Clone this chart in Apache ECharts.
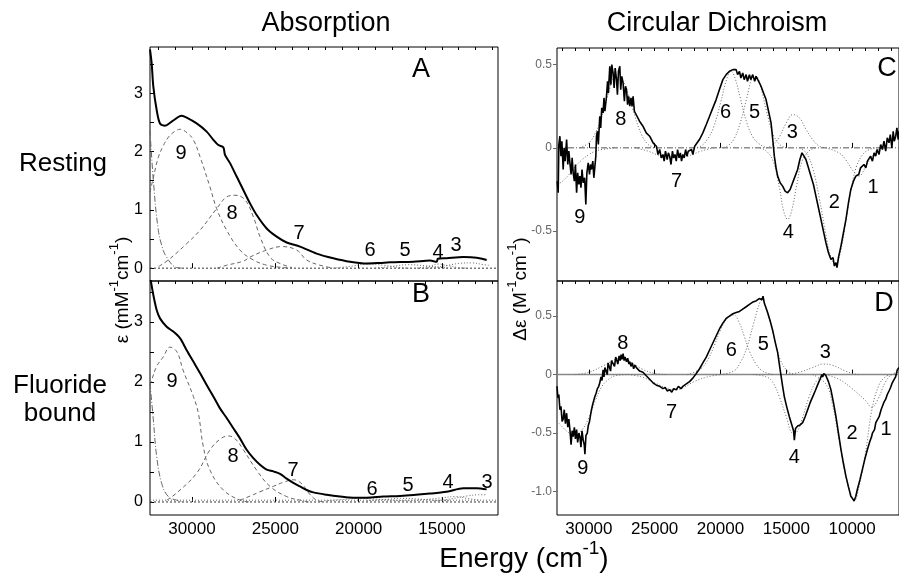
<!DOCTYPE html>
<html>
<head>
<meta charset="utf-8">
<script src="https://cdn.jsdelivr.net/npm/echarts@6/dist/echarts.min.js"></script>
<style>
  html, body { margin: 0; padding: 0; background: #fff; }
  #chart { width: 899px; height: 573px; }
</style>
</head>
<body>
<div id="chart"></div>
<script>
// ---- Absorption, resting (panel A) ----
const absRestMain = [[32520,3.75],[32420,3.51],[32320,3.11],[32120,2.71],[31920,2.48],[31620,2.44],[31220,2.51],[30620,2.61],[30320,2.58],[29720,2.48],[29120,2.34],[28720,2.2],[28420,2.11],[28120,2.07],[28020,1.94],[27720,1.8],[27320,1.57],[26920,1.34],[26520,1.11],[26120,0.91],[25520,0.68],[24920,0.54],[24320,0.44],[23520,0.37],[22520,0.25],[21520,0.17],[20520,0.11],[19520,0.08],[18720,0.09],[18120,0.1],[16720,0.11],[15720,0.13],[15320,0.11],[15250,0.16],[14720,0.17],[13720,0.19],[12920,0.18],[12320,0.14]];
const absRestUV = [[32520,2.37],[32320,1.51],[32020,0.65],[31720,0.3],[31520,0.19],[31200,0.06],[30920,0.01],[30500,0]];
const absRestBand9 = [[32520,1.3],[32320,1.55],[32020,1.9],[31720,2.1],[31400,2.25],[31000,2.35],[30700,2.38],[30300,2.32],[29920,2.2],[29520,1.91],[28920,1.39],[28520,1.02],[27920,0.65],[27120,0.31],[26320,0.14],[25500,0.05],[24500,0.01],[24000,0]];
const absRestBand8 = [[32000,0.03],[31420,0.14],[30320,0.42],[29520,0.65],[28520,1.02],[27920,1.22],[27420,1.25],[26820,1.17],[26320,0.88],[25920,0.54],[25320,0.19],[24720,0.08],[24000,0.01]];
const absRestBand7 = [[28500,0],[27920,0.05],[26920,0.12],[26520,0.19],[25520,0.31],[24620,0.37],[23720,0.31],[23120,0.14],[22320,0.05],[21500,0]];
const absRestBand6 = [[21500,0],[20500,0.03],[19500,0.07],[18500,0.05],[17500,0.01],[17000,0]];
const absRestBand5 = [[19000,0],[18000,0.03],[17000,0.06],[16000,0.04],[15000,0.01],[14500,0]];
const absRestBand4 = [[16500,0],[15800,0.03],[15200,0.07],[14600,0.04],[14000,0.01],[13500,0]];
const absRestBand3 = [[16000,0],[15000,0.03],[14000,0.08],[13200,0.09],[12500,0.06],[12200,0.05]];
const absRestLabels = [['9',30660,1.97],['8',27600,0.94],['7',23580,0.6],['6',19320,0.31],['5',17220,0.31],['4',15240,0.27],['3',14160,0.39]];

// ---- Absorption, fluoride bound (panel B) ----
const absFluMain = [[32520,3.75],[32480,3.7],[32320,3.45],[32120,3.2],[31920,3.06],[31520,2.92],[31120,2.84],[30720,2.73],[30320,2.53],[29920,2.34],[29520,2.15],[29120,1.95],[28720,1.76],[28320,1.56],[27920,1.4],[27520,1.23],[27120,1.06],[26720,0.87],[26320,0.73],[25920,0.62],[25520,0.54],[25120,0.51],[24720,0.47],[24320,0.39],[23920,0.32],[23520,0.26],[23120,0.2],[22720,0.16],[21920,0.12],[21120,0.09],[20320,0.07],[19520,0.07],[18520,0.09],[17520,0.1],[15720,0.14],[14720,0.17],[13720,0.23],[12920,0.23],[12320,0.21]];
const absFluUV = [[32520,1.98],[32320,1.37],[32120,0.76],[31820,0.31],[31420,0.09],[30920,0.03],[30500,0]];
const absFluBand9 = [[32520,1.95],[32420,2.03],[32120,2.26],[31720,2.42],[31320,2.58],[30900,2.5],[30540,2.2],[29920,1.76],[29620,1.48],[29320,0.92],[28920,0.53],[28120,0.2],[27120,0.03],[26500,0]];
const absFluBand8 = [[31520,0.03],[30920,0.15],[29720,0.48],[28920,0.87],[28300,1.05],[27820,1.1],[27400,1.05],[26920,0.87],[26120,0.53],[25320,0.26],[24320,0.09],[23520,0.03],[23000,0]];
const absFluBand7 = [[27120,0.03],[26500,0.1],[25920,0.17],[25120,0.26],[24500,0.33],[23920,0.37],[23400,0.3],[23000,0.15],[22520,0.03],[22000,0]];
const absFluBand6 = [[22000,0.02],[21000,0.04],[20000,0.06],[19000,0.05],[18000,0.03],[17000,0.02]];
const absFluBand5 = [[19500,0.02],[18500,0.04],[17500,0.06],[16500,0.05],[15500,0.03],[14500,0.02]];
const absFluBand4 = [[17000,0.02],[16000,0.04],[15000,0.07],[14200,0.09],[13500,0.06],[12800,0.03]];
const absFluBand3 = [[15500,0.02],[14500,0.05],[13500,0.1],[12800,0.12],[12300,0.12]];
const absFluLabels = [['9',31200,2.0],['8',27540,0.75],['7',23940,0.53],['6',19200,0.2],['5',17040,0.27],['4',14640,0.33],['3',12300,0.33]];

// ---- CD, resting (panel C) ----
const cdRestMain = [[32400,-0.2],[32330,-0.27],[32280,0.02],[32200,0.07],[32120,-0.05],[32050,0.04],[31950,-0.13],[31880,0.0],[31800,-0.08],[31690,0.05],[31600,-0.1],[31520,-0.02],[31440,-0.09],[31350,-0.16],[31270,-0.06],[31190,-0.15],[31100,-0.2],[31020,-0.1],[30930,-0.27],[30850,-0.15],[30760,-0.22],[30680,-0.17],[30600,-0.24],[30520,-0.13],[30430,-0.21],[30320,-0.18],[30230,-0.34],[30150,-0.15],[30050,-0.09],[29950,-0.16],[29880,-0.1],[29800,-0.13],[29700,-0.08],[29620,-0.18],[29550,-0.17],[29470,-0.05],[29420,0.07],[29350,0.1],[29280,0.02],[29170,0.19],[29100,0.12],[29020,0.24],[28920,0.21],[28850,0.3],[28780,0.22],[28660,0.31],[28580,0.4],[28520,0.33],[28410,0.49],[28330,0.38],[28260,0.5],[28160,0.45],[28080,0.36],[28000,0.48],[27900,0.41],[27830,0.32],[27750,0.46],[27650,0.49],[27580,0.35],[27500,0.43],[27400,0.39],[27300,0.28],[27220,0.37],[27140,0.35],[27060,0.26],[26980,0.31],[26890,0.25],[26800,0.3],[26720,0.25],[26640,0.31],[26540,0.22],[26390,0.21],[26150,0.16],[25890,0.13],[25640,0.09],[25380,0.07],[25120,0.03],[24870,0.01],[24750,-0.04],[24620,-0.01],[24500,-0.06],[24370,-0.04],[24280,-0.08],[24180,-0.02],[24050,-0.07],[23960,-0.03],[23860,-0.05],[23760,-0.1],[23650,-0.02],[23560,-0.06],[23460,-0.04],[23360,-0.08],[23260,-0.01],[23150,-0.06],[23050,-0.03],[22960,-0.08],[22860,-0.04],[22760,-0.06],[22650,-0.01],[22550,-0.05],[22450,-0.02],[22350,-0.03],[22200,-0.01],[22100,-0.04],[21960,0.01],[21840,0.01],[21600,0.05],[21340,0.09],[21080,0.14],[20830,0.19],[20580,0.24],[20330,0.29],[20080,0.35],[19820,0.41],[19570,0.44],[19320,0.46],[19060,0.47],[18810,0.47],[18700,0.44],[18560,0.46],[18450,0.42],[18310,0.45],[18200,0.41],[18050,0.44],[17950,0.4],[17800,0.44],[17700,0.41],[17550,0.44],[17400,0.4],[17300,0.43],[17100,0.4],[16920,0.37],[16730,0.33],[16540,0.29],[16350,0.22],[16160,0.15],[16030,0.05],[15910,-0.05],[15780,-0.12],[15660,-0.17],[15470,-0.21],[15280,-0.23],[15090,-0.26],[14900,-0.27],[14800,-0.28],[14710,-0.25],[14520,-0.21],[14330,-0.17],[14140,-0.13],[13970,-0.07],[13810,-0.03],[13660,-0.05],[13510,-0.07],[13320,-0.12],[13130,-0.17],[12940,-0.22],[12750,-0.29],[12560,-0.36],[12370,-0.43],[12180,-0.5],[11990,-0.57],[11800,-0.63],[11610,-0.67],[11450,-0.66],[11350,-0.71],[11230,-0.69],[11150,-0.72],[11040,-0.66],[10850,-0.59],[10660,-0.51],[10470,-0.43],[10280,-0.33],[10100,-0.25],[9900,-0.2],[9720,-0.17],[9500,-0.16],[9360,-0.12],[9220,-0.13],[9100,-0.1],[8960,-0.12],[8840,-0.08],[8710,-0.09],[8600,-0.05],[8460,-0.08],[8330,-0.03],[8210,-0.05],[8100,-0.01],[7960,-0.04],[7830,0.02],[7700,-0.01],[7580,0.04],[7450,-0.02],[7330,0.06],[7200,0.03],[7100,0.08],[6980,0.0],[6880,0.1],[6800,0.04],[6690,0.07],[6600,0.12],[6500,0.05],[6440,0.1]];
const cdRestBand9 = [[32400,-0.22],[32000,-0.2],[31500,-0.16],[31000,-0.11],[30500,-0.07],[30000,-0.04],[29500,-0.02],[29000,-0.01],[28000,0]];
const cdRestBand8 = [[30700,0],[30000,0.03],[29500,0.09],[29000,0.19],[28500,0.33],[28000,0.42],[27500,0.41],[27000,0.32],[26500,0.19],[26000,0.08],[25500,0.02],[25000,0]];
const cdRestBand7 = [[26500,0],[25500,-0.02],[24500,-0.05],[23500,-0.06],[22500,-0.05],[21500,-0.02],[20500,0]];
const cdRestBand6 = [[22000,0],[21500,0.01],[21000,0.05],[20500,0.13],[20000,0.27],[19500,0.42],[19200,0.46],[18900,0.42],[18500,0.3],[18000,0.15],[17500,0.06],[17000,0.02],[16500,0]];
const cdRestBand5 = [[20000,0],[19500,0.01],[19000,0.05],[18500,0.15],[18000,0.3],[17600,0.42],[17300,0.43],[17000,0.38],[16500,0.22],[16000,0.08],[15500,0.02],[15000,0]];
const cdRestBand4 = [[17000,0],[16500,-0.02],[16000,-0.08],[15500,-0.25],[15200,-0.38],[14900,-0.43],[14600,-0.38],[14200,-0.22],[13800,-0.08],[13300,-0.02],[12800,0]];
const cdRestBand3 = [[16500,0],[16000,0.02],[15500,0.07],[15000,0.15],[14500,0.2],[14000,0.18],[13500,0.11],[13000,0.05],[12500,0.01],[12000,0]];
const cdRestBand2 = [[14000,0],[13500,-0.03],[13000,-0.12],[12500,-0.3],[12000,-0.52],[11600,-0.66],[11250,-0.7],[10900,-0.63],[10500,-0.45],[10100,-0.26],[9700,-0.12],[9200,-0.04],[8700,-0.01],[8200,0]];
const cdRestBand1 = [[12000,0],[11000,-0.03],[10500,-0.07],[10000,-0.13],[9500,-0.17],[9000,-0.12],[8500,-0.05],[8000,-0.01],[7500,0]];
const cdRestLabels = [['9',30680,-0.42],['8',27580,0.17],['7',23340,-0.2],['6',19620,0.21],['5',17420,0.21],['3',14540,0.09],['4',14840,-0.51],['2',11360,-0.33],['1',8410,-0.24]];

// ---- CD, fluoride bound (panel D) ----
const cdFluMain = [[32420,-0.1],[32350,-0.2],[32280,-0.17],[32200,-0.3],[32120,-0.27],[32030,-0.4],[31950,-0.38],[31870,-0.3],[31780,-0.42],[31690,-0.33],[31600,-0.45],[31520,-0.38],[31440,-0.47],[31350,-0.6],[31270,-0.48],[31190,-0.53],[31100,-0.45],[31020,-0.55],[30930,-0.47],[30850,-0.58],[30760,-0.5],[30680,-0.53],[30600,-0.62],[30520,-0.48],[30430,-0.56],[30350,-0.6],[30300,-0.68],[30220,-0.52],[30120,-0.5],[30050,-0.44],[29950,-0.4],[29880,-0.35],[29800,-0.3],[29700,-0.25],[29620,-0.24],[29550,-0.19],[29450,-0.16],[29350,-0.12],[29250,-0.1],[29170,-0.07],[29080,-0.02],[29000,-0.05],[28920,0.04],[28850,-0.02],[28780,0.06],[28660,0.07],[28600,0.0],[28540,0.1],[28410,0.1],[28350,0.03],[28280,0.12],[28150,0.12],[28050,0.07],[27960,0.15],[27900,0.13],[27800,0.09],[27700,0.16],[27620,0.12],[27550,0.17],[27480,0.13],[27400,0.18],[27320,0.12],[27250,0.15],[27140,0.11],[27050,0.14],[26960,0.09],[26890,0.11],[26800,0.07],[26700,0.1],[26600,0.05],[26500,0.08],[26390,0.06],[26250,0.05],[26140,0.03],[25890,0.02],[25640,-0.01],[25380,-0.04],[25130,-0.07],[24870,-0.09],[24620,-0.1],[24370,-0.12],[24200,-0.11],[24050,-0.14],[23860,-0.13],[23700,-0.15],[23560,-0.12],[23360,-0.13],[23200,-0.1],[23000,-0.12],[22860,-0.1],[22600,-0.08],[22350,-0.06],[22100,-0.03],[21840,0.01],[21590,0.05],[21340,0.1],[21080,0.15],[20830,0.21],[20580,0.27],[20330,0.33],[20080,0.39],[19820,0.44],[19570,0.48],[19320,0.5],[19060,0.52],[18810,0.53],[18560,0.54],[18310,0.56],[18200,0.55],[18050,0.58],[17900,0.57],[17800,0.6],[17650,0.59],[17550,0.62],[17400,0.61],[17300,0.63],[17150,0.62],[17050,0.65],[16920,0.66],[16850,0.64],[16770,0.67],[16670,0.61],[16540,0.57],[16420,0.53],[16230,0.46],[16040,0.38],[15850,0.28],[15660,0.19],[15530,0.09],[15400,-0.01],[15280,-0.1],[15150,-0.19],[14960,-0.28],[14770,-0.36],[14580,-0.43],[14450,-0.48],[14390,-0.56],[14300,-0.46],[14140,-0.44],[13950,-0.43],[13760,-0.41],[13570,-0.36],[13380,-0.3],[13190,-0.24],[13000,-0.19],[12810,-0.14],[12630,-0.09],[12440,-0.04],[12300,0.0],[12250,-0.02],[12150,0.01],[11990,-0.01],[11800,-0.06],[11610,-0.13],[11420,-0.24],[11230,-0.36],[11040,-0.5],[10850,-0.64],[10660,-0.76],[10470,-0.87],[10280,-0.96],[10100,-1.04],[9970,-1.06],[9850,-1.08],[9720,-1.04],[9600,-0.98],[9410,-0.9],[9220,-0.81],[9030,-0.72],[8840,-0.64],[8650,-0.57],[8520,-0.53],[8460,-0.5],[8300,-0.47],[8200,-0.41],[7950,-0.36],[7800,-0.3],[7700,-0.31],[7600,-0.24],[7450,-0.21],[7330,-0.17],[7200,-0.14],[7080,-0.11],[6950,-0.07],[6850,-0.05],[6700,-0.02],[6570,0.04],[6440,0.06]];
const cdFluBand9 = [[32400,-0.4],[31500,-0.5],[31000,-0.52],[30500,-0.47],[30000,-0.37],[29500,-0.22],[29000,-0.1],[28500,-0.04],[28000,-0.01],[27000,0]];
const cdFluBand8 = [[31000,0],[30000,0.02],[29000,0.07],[28000,0.13],[27500,0.14],[27000,0.12],[26000,0.05],[25000,0.01],[24000,0]];
const cdFluBand7 = [[27000,0],[26000,-0.02],[25000,-0.07],[24000,-0.12],[23500,-0.13],[23000,-0.12],[22000,-0.06],[21000,-0.02],[20000,0]];
const cdFluBand6 = [[22500,0],[21500,0.05],[21000,0.12],[20500,0.24],[20000,0.38],[19500,0.48],[19000,0.51],[18600,0.45],[18200,0.33],[17800,0.2],[17300,0.09],[16800,0.03],[16000,0]];
const cdFluBand5 = [[20000,0],[19000,0.03],[18500,0.1],[18000,0.23],[17500,0.43],[17000,0.62],[16800,0.64],[16500,0.55],[16000,0.35],[15500,0.14],[15000,0.04],[14500,0]];
const cdFluBand4 = [[17500,0],[16500,-0.02],[16000,-0.07],[15500,-0.2],[15000,-0.36],[14500,-0.5],[14200,-0.49],[13800,-0.38],[13300,-0.2],[12800,-0.07],[12300,-0.02],[11800,0]];
const cdFluBand3 = [[15000,0],[14000,0.02],[13000,0.06],[12200,0.09],[11500,0.08],[10500,0.03],[10000,0.01],[9500,0]];
const cdFluBand2 = [[13000,0],[12000,-0.08],[11500,-0.25],[11000,-0.55],[10500,-0.86],[10000,-1.05],[9800,-1.07],[9500,-0.97],[9000,-0.68],[8500,-0.3],[8000,-0.1],[7500,-0.02],[7000,0]];
const cdFluBand1 = [[12000,0],[11000,-0.04],[10000,-0.12],[9000,-0.22],[8500,-0.28],[8000,-0.2],[7500,-0.07],[7000,0],[6440,0.02]];
const cdFluLabels = [['8',27420,0.27],['9',30450,-0.8],['7',23710,-0.32],['6',19170,0.21],['5',16740,0.26],['3',12040,0.19],['4',14390,-0.71],['2',10000,-0.5],['1',7420,-0.47]];

// tick positions
const energyMajorLeft = [30000, 25000, 20000, 15000];
const energyMajorRight = [30000, 25000, 20000, 15000, 10000];
const epsTicks = [0, 1, 2, 3];
const cdTicksC = [0.5, 0, -0.5];
const cdTicksD = [0.5, 0, -0.5, -1.0];

const FONT = '"Liberation Sans", Arial, sans-serif';
const minorTicks = [];
for (let v = 7000; v <= 32000; v += 1000) minorTicks.push(v);
const halfTicks = [0, 0.5, 1, 1.5, 2, 2.5, 3, 3.5];

// grids: A, B, C, D
const grids = [
  { left: 150, top: 47, width: 348, height: 234 },
  { left: 150, top: 281, width: 348, height: 234 },
  { left: 557, top: 48, width: 343, height: 233 },
  { left: 557, top: 281, width: 343, height: 234 }
].map(g => Object.assign(g, { show: true, borderColor: '#000', borderWidth: 1, backgroundColor: 'transparent' }));

const xRange = [
  { min: 11640, max: 32520 }, { min: 11640, max: 32520 },
  { min: 6440, max: 32420 }, { min: 6440, max: 32420 }
];
const yRange = [
  { min: -0.22, max: 3.79 }, { min: -0.217, max: 3.683 },
  { min: -0.8, max: 0.6 }, { min: -1.2, max: 0.8 }
];

const xAxes = [];
// major ticks + labels
for (let g = 0; g < 4; g++) {
  const major = g < 2 ? energyMajorLeft : energyMajorRight;
  xAxes.push({
    gridIndex: g, type: 'value', inverse: true, min: xRange[g].min, max: xRange[g].max,
    axisLine: { show: false }, splitLine: { show: false },
    axisTick: { show: true, inside: true, length: 5, customValues: major, lineStyle: { color: '#000' } },
    axisLabel: { show: g === 1 || g === 3, customValues: major, fontSize: 17, color: '#000', margin: 6, fontFamily: FONT,
      formatter: v => String(v) }
  });
}
// minor ticks
for (let g = 0; g < 4; g++) {
  xAxes.push({
    gridIndex: g, type: 'value', inverse: true, min: xRange[g].min, max: xRange[g].max,
    axisLine: { show: false }, splitLine: { show: false },
    axisTick: { show: true, inside: true, length: 3, customValues: minorTicks.filter(v => v > xRange[g].min && v < xRange[g].max), lineStyle: { color: '#000' } },
    axisLabel: { show: false }
  });
}

const yAxes = [];
for (let g = 0; g < 4; g++) {
  const left = g < 2;
  const labels = left ? epsTicks : (g === 2 ? cdTicksC : cdTicksD);
  yAxes.push({
    gridIndex: g, type: 'value', min: yRange[g].min, max: yRange[g].max,
    axisLine: { show: false }, splitLine: { show: false },
    axisTick: { show: true, inside: left, length: 4, customValues: left ? halfTicks : labels, lineStyle: { color: left ? '#000' : '#666' } },
    axisLabel: {
      customValues: labels, fontSize: left ? 16 : 12, color: left ? '#000' : '#666', margin: left ? 7 : 5, fontFamily: FONT,
      formatter: v => (left || v === 0) ? String(v) : v.toFixed(1)
    }
  });
}

function curve(data, g, width, type, color, smooth) {
  return {
    type: 'line', xAxisIndex: g, yAxisIndex: g, data: data, showSymbol: false, symbol: 'none',
    smooth: smooth || false, silent: true, animation: false,
    lineStyle: { width: width, type: type, color: color }
  };
}
function numbers(list, g) {
  return {
    type: 'scatter', xAxisIndex: g, yAxisIndex: g, symbolSize: 0, silent: true, animation: false, z: 10,
    itemStyle: { color: '#000', opacity: 1 },
    data: list.map(([t, x, y]) => ({ name: t, value: [x, y] })),
    label: { show: true, position: 'inside', formatter: '{b}', fontSize: 20, color: '#000', opacity: 1, fontFamily: FONT }
  };
}

const DASH = [4, 3], DOT = [1, 2], DASHDOT = [6, 2, 1, 2];
const GREY = '#666';
const series = [];

// panel A
series.push(curve([[32520, 0], [11640, 0]], 0, 1, [2, 2], '#333'));
series.push(curve(absRestUV, 0, 1, DASHDOT, GREY, 0.4));
[absRestBand9, absRestBand8, absRestBand7].forEach(d => series.push(curve(d, 0, 1, DASH, GREY, 0.4)));
[absRestBand6, absRestBand5, absRestBand4, absRestBand3].forEach(d => series.push(curve(d, 0, 1, DOT, GREY, 0.4)));
series.push(curve(absRestMain, 0, 2, 'solid', '#000', 0.3));
series.push(numbers(absRestLabels, 0));

// panel B
series.push(curve([[32520, 0], [11640, 0]], 1, 1, [2, 2], '#333'));
series.push(curve([[32520, 0.03], [11640, 0.03]], 1, 1, DOT, GREY));
series.push(curve(absFluUV, 1, 1, DASHDOT, GREY, 0.4));
[absFluBand9, absFluBand8, absFluBand7].forEach(d => series.push(curve(d, 1, 1, DASH, GREY, 0.4)));
[absFluBand6, absFluBand5, absFluBand4, absFluBand3].forEach(d => series.push(curve(d, 1, 1, DOT, GREY, 0.4)));
series.push(curve(absFluMain, 1, 2, 'solid', '#000', 0.3));
series.push(numbers(absFluLabels, 1));

// panel C
series.push(curve([[32420, 0], [6440, 0]], 2, 1, DASHDOT, '#555'));
[cdRestBand9, cdRestBand8, cdRestBand7, cdRestBand6, cdRestBand5, cdRestBand4, cdRestBand3, cdRestBand2, cdRestBand1]
  .forEach(d => series.push(curve(d, 2, 1, DOT, GREY, 0.4)));
series.push(curve(cdRestMain, 2, 1.6, 'solid', '#000'));
series.push(numbers(cdRestLabels, 2));

// panel D
series.push(curve([[32420, 0], [6440, 0]], 3, 1.5, 'solid', '#888'));
[cdFluBand9, cdFluBand8, cdFluBand7, cdFluBand6, cdFluBand5, cdFluBand4, cdFluBand3, cdFluBand2, cdFluBand1]
  .forEach(d => series.push(curve(d, 3, 1, DOT, GREY, 0.4)));
series.push(curve(cdFluMain, 3, 1.6, 'solid', '#000'));
series.push(numbers(cdFluLabels, 3));

function txt(text, x, y, size, extra) {
  return Object.assign({
    type: 'text', x: x, y: y, silent: true,
    style: { text: text, fontSize: size, fontFamily: FONT, fill: '#000', align: 'center', verticalAlign: 'middle' }
  }, extra || {});
}
function supText(parts, x, y, size, supSize, rotation) {
  const rich = {
    n: { fontSize: size, fontFamily: FONT, lineHeight: size + 6, verticalAlign: 'bottom', fill: '#000' },
    s: { fontSize: supSize, fontFamily: FONT, lineHeight: size + 6, verticalAlign: 'top', fill: '#000' }
  };
  return {
    type: 'text', x: x, y: y, rotation: rotation || 0, silent: true,
    style: { text: parts, rich: rich, align: 'center', verticalAlign: 'middle', fill: '#000' }
  };
}

const graphics = [
  txt('Absorption', 326, 24, 27),
  txt('Circular Dichroism', 717, 24, 27),
  txt('Resting', 63, 164, 26),
  txt('Fluoride', 60, 386, 26),
  txt('bound', 60, 414, 26),
  txt('A', 421, 70, 27),
  txt('B', 421, 295, 27),
  txt('C', 887, 69, 27),
  txt('D', 884, 304, 27),
  supText('{n|ε (mM}{s|-1}{n|cm}{s|-1}{n|)}', 120, 290, 19, 13, Math.PI / 2),
  supText('{n|Δε (M}{s|-1}{n|cm}{s|-1}{n|)}', 518, 289, 19, 13, Math.PI / 2),
  supText('{n|Energy (cm}{s|-1}{n|)}', 524, 556, 28, 19, 0)
];

const chart = echarts.init(document.getElementById('chart'), null, { renderer: 'canvas' });
chart.setOption({
  animation: false,
  backgroundColor: '#fff',
  grid: grids,
  xAxis: xAxes,
  yAxis: yAxes,
  series: series,
  graphic: graphics
});
</script>
</body>
</html>
